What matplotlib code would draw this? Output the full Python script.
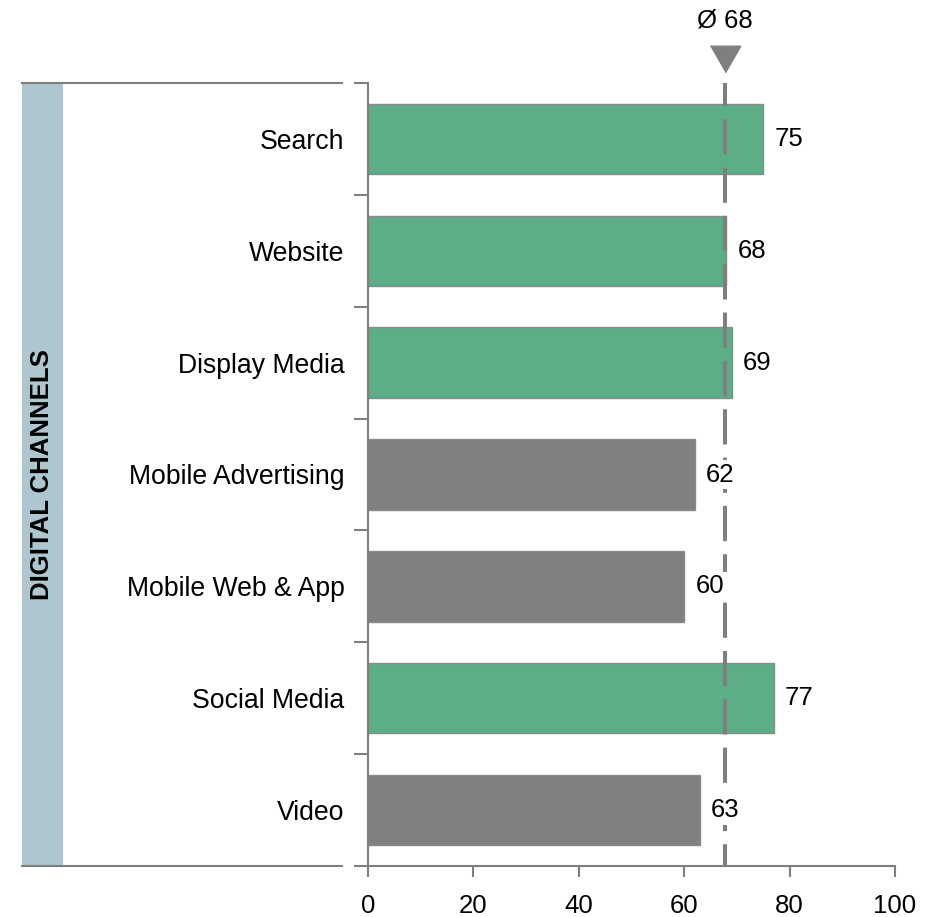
import numpy as np
import matplotlib
matplotlib.use("Agg")
import matplotlib.pyplot as plt
from matplotlib.patches import Rectangle
from matplotlib.lines import Line2D
from matplotlib.transforms import blended_transform_factory

plt.rcParams['font.family'] = ['Liberation Sans', 'DejaVu Sans']

channels = ["Search", "Website", "Display Media", "Mobile Advertising",
            "Mobile Web & App", "Social Media", "Video"]
scores = [75, 68, 69, 62, 60, 77, 63]
above_avg = [True, True, True, False, False, True, False]
x_ticks = [0, 20, 40, 60, 80, 100]
group_label = "DIGITAL CHANNELS"

GREEN = "#5bae85"
GRAY = "#808080"
LINE = "#7f7f7f"
STRIP = "#adc6d0"
FS = 18.5
FS_CAT = 19.2

W, H = 937, 917
fig = plt.figure(figsize=(W / 100, H / 100), dpi=100)

ax_l, ax_r, ax_t, ax_b = 368, 895, 83, 866
ax = fig.add_axes([ax_l / W, 1 - ax_b / H, (ax_r - ax_l) / W, (ax_b - ax_t) / H])

n = len(channels)
ypos = np.arange(n)
colors = [GREEN if a else GRAY for a in above_avg]
ax.barh(ypos, scores, height=0.63, color=colors, edgecolor="#8a8a8a",
        linewidth=1.0, zorder=2)

ax.set_xlim(0, 100)
ax.set_ylim(n - 0.5, -0.5)

# axes styling
for s in ["top", "right"]:
    ax.spines[s].set_visible(False)
for s in ["left", "bottom"]:
    ax.spines[s].set_color(LINE)
    ax.spines[s].set_linewidth(1.5)

ax.set_xticks(x_ticks)
ax.set_xticklabels([str(v) for v in x_ticks], fontsize=FS)
ax.tick_params(axis="x", direction="out", length=8, width=1.5, color=LINE,
               pad=12)

ax.set_yticks(ypos)
ax.set_yticklabels(channels, fontsize=FS_CAT)
ax.tick_params(axis="y", which="major", length=0, pad=17)
ax.set_yticks(np.arange(n + 1) - 0.5, minor=True)
ax.tick_params(axis="y", which="minor", direction="out", length=10, width=1.5,
               color=LINE)

# average line
avg = float(np.mean(scores))
ax.plot([avg, avg], [-0.5, n - 0.5], color=LINE, linewidth=2.9,
        linestyle=(3.0, (8.75, 3.25)), zorder=3, clip_on=False)

for y, v in zip(ypos, scores):
    ax.annotate(str(v), xy=(v, y), xytext=(8, 0), textcoords="offset points",
                ha="left", va="center", fontsize=FS, zorder=4,
                bbox=dict(facecolor="white", edgecolor="none", pad=2))

trans = blended_transform_factory(ax.transData, ax.transAxes)
tri = [(-1, 0.87), (1, 0.87), (0, -0.87)]
ax.plot([avg], [1 + (ax_t - 58.5) / (ax_b - ax_t)], marker=tri, markersize=22,
        color=LINE, transform=trans, clip_on=False, linestyle="none")
ax.text(avg, 1 + (ax_t - 21) / (ax_b - ax_t), f"Ø {avg:.0f}", transform=trans,
        ha="center", va="center", fontsize=FS)

# left group panel
fy = lambda py: 1 - py / H
fx = lambda px: px / W
fig.patches.append(Rectangle((fx(22), fy(ax_b)), fx(63) - fx(22), fy(ax_t) - fy(ax_b),
                             transform=fig.transFigure, facecolor=STRIP,
                             edgecolor="none", zorder=0))
for py in (ax_t, ax_b):
    fig.lines.append(Line2D([fx(22), fx(342)], [fy(py), fy(py)],
                            transform=fig.transFigure, color=LINE, linewidth=1.5))
fig.text(fx(42.5), fy((ax_t + ax_b) / 2), group_label, rotation=90,
         ha="center", va="center", fontsize=FS, fontweight="bold")

fig.savefig("out.png", dpi=100)
